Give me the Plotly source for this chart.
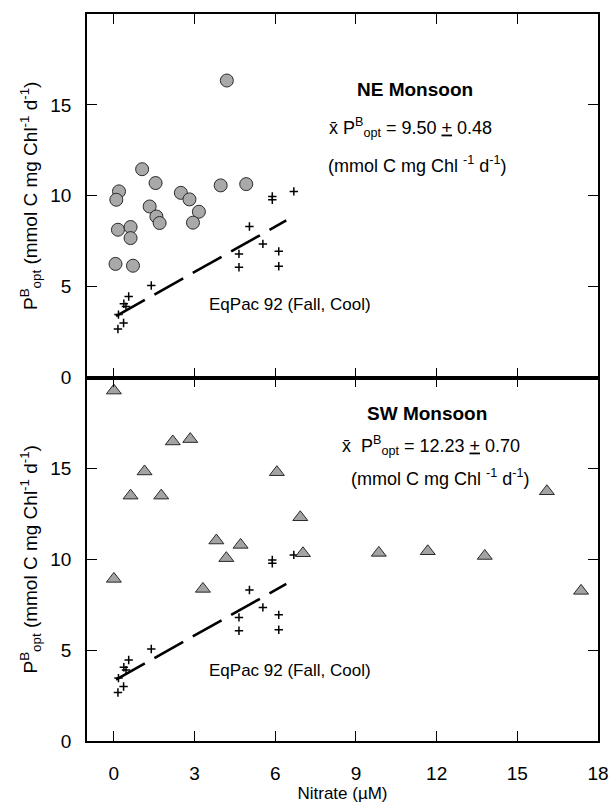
import plotly.graph_objects as go
from plotly.subplots import make_subplots

# NE Monsoon observations (circles)
ne_nitrate = [4.20, 1.05, 1.55, 0.19, 0.09, 0.15, 0.62, 0.62, 0.06, 0.71,
              1.33, 1.58, 1.70, 2.49, 2.81, 3.16, 2.94, 3.97, 4.92]
ne_pbopt = [16.34, 11.46, 10.70, 10.24, 9.78, 8.13, 8.28, 7.67, 6.25, 6.15,
            9.41, 8.86, 8.50, 10.16, 9.80, 9.12, 8.52, 10.57, 10.64]

# SW Monsoon observations (triangles)
sw_nitrate = [0.00, 2.19, 2.84, 1.14, 0.62, 1.76, 6.06, 6.93, 3.81, 4.71,
              4.18, 7.03, 0.00, 3.31, 9.85, 11.67, 13.79, 16.10, 17.37]
sw_pbopt = [19.28, 16.48, 16.61, 14.83, 13.50, 13.50, 14.79, 12.31, 11.03, 10.79,
            10.06, 10.33, 8.92, 8.37, 10.35, 10.44, 10.18, 13.74, 8.26]

# EqPac 92 (Fall, Cool) reference data (plus signs) and its regression line
eq_nitrate = [0.15, 0.36, 0.17, 0.37, 0.45, 0.55, 1.39, 4.65, 4.65, 5.04,
              5.54, 5.89, 5.89, 6.13, 6.13, 6.69]
eq_pbopt = [2.67, 3.00, 3.46, 4.06, 3.90, 4.46, 5.06, 6.80, 6.07, 8.31,
            7.35, 9.96, 9.78, 6.94, 6.12, 10.24]
fit_nitrate = [0.08, 6.41]
fit_pbopt = [3.38, 8.64]

x_ticks = [0, 3, 6, 9, 12, 15, 18]
y_ticks = [0, 5, 10, 15]

FONT = "Liberation Sans, Arial, sans-serif"

fig = make_subplots(rows=2, cols=1, shared_xaxes=True, vertical_spacing=0)

for row in (1, 2):
    fig.add_trace(go.Scatter(
        x=fit_nitrate, y=fit_pbopt, mode="lines",
        line=dict(color="black", width=2.6, dash="33px,11px"),
        showlegend=False, hoverinfo="skip"), row=row, col=1)
    fig.add_trace(go.Scatter(
        x=eq_nitrate, y=eq_pbopt, mode="markers",
        marker=dict(symbol="cross-thin", size=6, line=dict(color="black", width=1.5)),
        showlegend=False), row=row, col=1)

fig.add_trace(go.Scatter(
    x=ne_nitrate, y=ne_pbopt, mode="markers",
    marker=dict(symbol="circle", size=13, color="#a9a9a9",
                line=dict(color="#2a2a2a", width=1)),
    showlegend=False), row=1, col=1)

fig.add_trace(go.Scatter(
    x=sw_nitrate, y=sw_pbopt, mode="markers",
    marker=dict(symbol="triangle-up", size=13, color="#a3a3a3",
                line=dict(color="#2a2a2a", width=1)),
    showlegend=False), row=2, col=1)

axis_common = dict(showline=True, linewidth=1.6, linecolor="black", mirror="ticks",
                   ticks="inside", ticklen=10, tickwidth=1, tickcolor="black",
                   showgrid=False, zeroline=False, automargin=False,
                   tickfont=dict(family=FONT, size=19, color="black"))

fig.update_xaxes(range=[-1, 18], tickvals=x_ticks, **axis_common)
fig.update_xaxes(ticklabelstandoff=14, row=2, col=1,
                 title=dict(text="Nitrate (µM)", font=dict(family=FONT, size=17, color="black"),
                            standoff=0))
ytitle = "P<sup>B</sup><sub>opt</sub> (mmol C mg Chl<sup>-1</sup> d<sup>-1</sup>)"
fig.update_yaxes(range=[0, 20], tickvals=y_ticks, ticklabelstandoff=10,
                 title=dict(text=ytitle, font=dict(family=FONT, size=19, color="black"),
                            standoff=8),
                 **axis_common)

ann_font = dict(family=FONT, size=18, color="black")
annotations = [
    dict(x=11.18, y=15.82, xref="x", yref="y", text="<b>NE Monsoon</b>",
         font=dict(family=FONT, size=19, color="black"), xanchor="center"),
    dict(x=7.94, y=13.74, xref="x", yref="y",
         text="x\u0304 P<sup>B</sup><sub>opt</sub> = 9.50 <u>+</u> 0.48", font=ann_font, xanchor="left"),
    dict(x=7.87, y=11.70, xref="x", yref="y",
         text="(mmol C mg Chl <sup>-1</sup> d<sup>-1</sup>)", font=ann_font, xanchor="left"),
    dict(x=3.45, y=4.01, xref="x", yref="y", text="EqPac 92 (Fall, Cool)",
         font=dict(family=FONT, size=17, color="black"), xanchor="left"),
    dict(x=11.66, y=18.02, xref="x2", yref="y2", text="<b>SW Monsoon</b>",
         font=dict(family=FONT, size=19, color="black"), xanchor="center"),
    dict(x=8.39, y=16.26, xref="x2", yref="y2",
         text="x\u0304  P<sup>B</sup><sub>opt</sub> = 12.23 <u>+</u> 0.70", font=ann_font, xanchor="left"),
    dict(x=8.76, y=14.51, xref="x2", yref="y2",
         text="(mmol C mg Chl <sup>-1</sup> d<sup>-1</sup>)", font=ann_font, xanchor="left"),
    dict(x=3.45, y=3.90, xref="x2", yref="y2", text="EqPac 92 (Fall, Cool)",
         font=dict(family=FONT, size=17, color="black"), xanchor="left"),
]
for a in annotations:
    a["showarrow"] = False
    a["yanchor"] = "middle"
fig.update_layout(annotations=annotations)

fig.update_layout(width=610, height=805, margin=dict(l=87, r=12, t=14, b=64),
                  plot_bgcolor="white", paper_bgcolor="white",
                  font=dict(family=FONT, color="black"))

fig.write_html("out.html")
